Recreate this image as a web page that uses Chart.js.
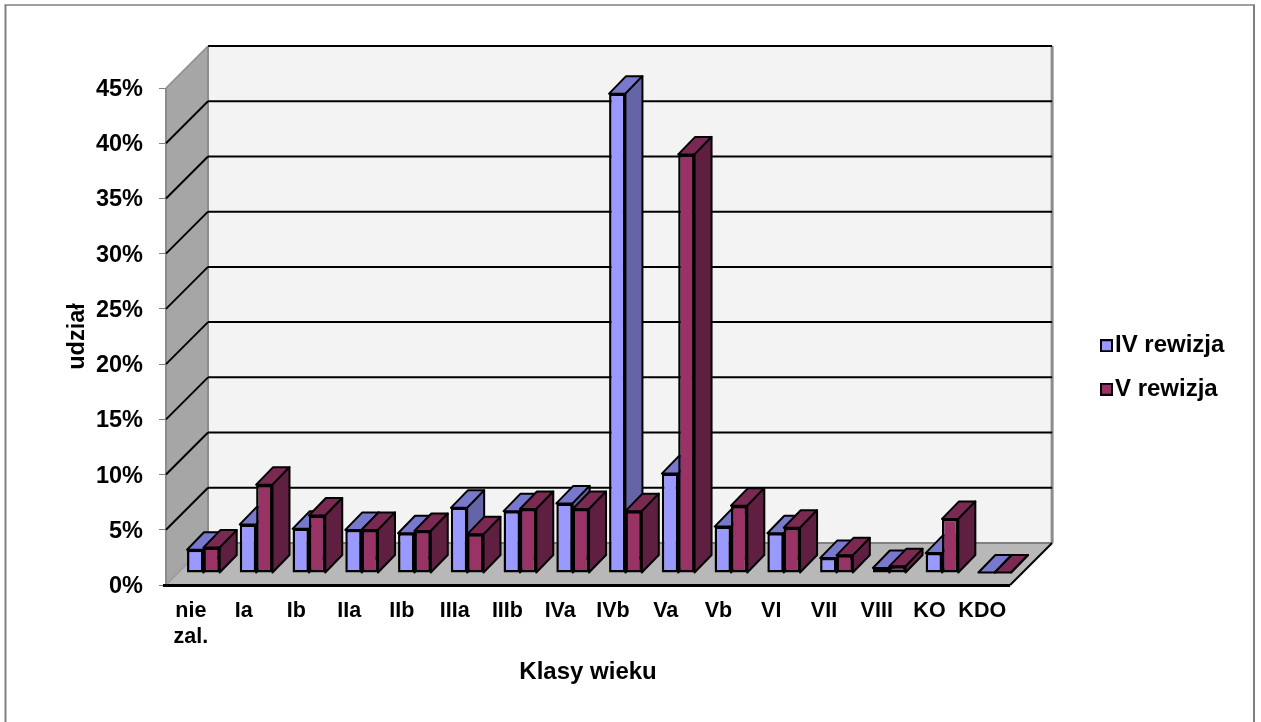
<!DOCTYPE html>
<html>
<head>
<meta charset="utf-8">
<title>Klasy wieku</title>
<script src="https://cdn.jsdelivr.net/npm/chart.js@4"></script>
<style>
  html, body { margin: 0; padding: 0; background: #fff; }
  canvas { display: block; }
</style>
</head>
<body>
<canvas id="wiekChart" width="1261" height="722"></canvas>
<script>
// klasy wieku
const categories = [['nie', 'zal.'], 'Ia', 'Ib', 'IIa', 'IIb', 'IIIa', 'IIIb', 'IVa', 'IVb', 'Va', 'Vb', 'VI', 'VII', 'VIII', 'KO', 'KDO'];
// udzial w %
const rewizja4 = [2.1, 4.4, 4.0, 3.9, 3.6, 5.9, 5.6, 6.3, 43.4, 9.0, 4.2, 3.6, 1.35, 0.45, 1.8, 0.05];
const rewizja5 = [2.3, 8.0, 5.2, 3.9, 3.8, 3.5, 5.8, 5.8, 5.6, 37.9, 6.1, 4.1, 1.6, 0.6, 4.9, 0.05];

// przesuniecia glebi 3D, liczone od przedniej krawedzi podlogi
const WALL_DX = 42, WALL_DY = -42;
const BAR_DX = 11, BAR_DY = -12;
const SIDE_DX = 17, SIDE_DY = -17.5;
const FONT = '"Liberation Sans", Arial, sans-serif';

const frontColors = ['#9999FF', '#993366'];
const faceColors = [
  { top: '#7878CC', side: '#6464A6' },
  { top: '#7A2952', side: '#5F1F40' },
];

function poly(ctx, pts, fill, stroke, lw) {
  ctx.beginPath();
  pts.forEach((p, i) => i ? ctx.lineTo(p[0], p[1]) : ctx.moveTo(p[0], p[1]));
  ctx.closePath();
  if (fill) { ctx.fillStyle = fill; ctx.fill(); }
  if (stroke) { ctx.strokeStyle = stroke; ctx.lineWidth = lw; ctx.lineJoin = 'round'; ctx.stroke(); }
}

function line(ctx, x1, y1, x2, y2, color, lw) {
  ctx.beginPath();
  ctx.moveTo(x1, y1);
  ctx.lineTo(x2, y2);
  ctx.strokeStyle = color;
  ctx.lineWidth = lw;
  ctx.stroke();
}

// kwadracik legendy; odstep tekstu w legendzie zalezy od fontu, wiec rysowany na szerszym canvasie
function swatch(color) {
  const c = document.createElement('canvas');
  c.width = 21;
  c.height = 13;
  const g = c.getContext('2d');
  g.fillStyle = '#000';
  g.fillRect(8, 0, 13, 13);
  g.fillStyle = color;
  g.fillRect(10, 2, 9, 9);
  return c;
}

const frame3d = {
  id: 'frame3d',
  afterLayout(chart) {
    // legenda stoi wyzej i dalej w prawo niz domyslnie
    const l = chart.legend;
    const w = l.right - l.left;
    l.left = 1082.5;
    l.right = 1082.5 + w;
    l.top -= 20;
    l.bottom -= 20;
  },
  beforeDraw(chart) {
    const ctx = chart.ctx;
    ctx.save();
    // ramka wykresu, dolnej krawedzi nie widac
    line(ctx, 5.5, 722, 5.5, 5, '#808080', 2);
    line(ctx, 4.5, 5, 1255, 5, '#808080', 1.5);
    line(ctx, 1254, 5, 1254, 722, '#808080', 2);
    ctx.restore();
  },
  beforeDatasetsDraw(chart) {
    const ctx = chart.ctx;
    const { left, right } = chart.chartArea;
    const y = chart.scales.y;
    const y0 = y.getPixelForValue(0), yTop = y.getPixelForValue(45);
    ctx.save();

    // sciana tylna, boczna i podloga
    poly(ctx, [[left + WALL_DX, yTop + WALL_DY], [right + WALL_DX, yTop + WALL_DY], [right + WALL_DX, y0 + WALL_DY], [left + WALL_DX, y0 + WALL_DY]], '#F3F3F3');
    poly(ctx, [[left, yTop], [left + WALL_DX, yTop + WALL_DY], [left + WALL_DX, y0 + WALL_DY], [left, y0]], '#A6A6A6');
    poly(ctx, [[left, y0], [left + WALL_DX, y0 + WALL_DY], [right + WALL_DX, y0 + WALL_DY], [right, y0]], '#B8B8B8');

    line(ctx, left + WALL_DX, yTop + WALL_DY, left + WALL_DX, y0 + WALL_DY, '#8C8C8C', 2);
    line(ctx, left, yTop, left, y0, '#8C8C8C', 2);
    line(ctx, right + WALL_DX, yTop + WALL_DY, right + WALL_DX, y0 + WALL_DY, '#8C8C8C', 3);
    line(ctx, left, yTop, left + WALL_DX, yTop + WALL_DY, '#8C8C8C', 1.5);
    line(ctx, left, y0, left + WALL_DX, y0 + WALL_DY, '#9A9A9A', 1.5);
    line(ctx, left + WALL_DX, y0 + WALL_DY, right + WALL_DX, y0 + WALL_DY, '#808080', 2);
    line(ctx, right + WALL_DX, y0 + WALL_DY, right, y0, '#000', 2);
    line(ctx, left - 3, y0 + 0.5, right, y0 + 0.5, '#000', 3);

    // linie siatki
    y.ticks.forEach(t => {
      const py = y.getPixelForValue(t.value);
      if (t.value > 0) {
        line(ctx, left + WALL_DX, py + WALL_DY, right + WALL_DX, py + WALL_DY, '#000', 2);
        if (t.value < 45) line(ctx, left, py, left + WALL_DX, py + WALL_DY, '#000', 2);
      }
    });

    // przesuniecie slupkow w glab, sciany boczne i gorne
    ctx.translate(BAR_DX, BAR_DY);
    chart.data.datasets.forEach((ds, di) => {
      chart.getDatasetMeta(di).data.forEach(bar => {
        const x1 = bar.x - bar.width / 2, x2 = bar.x + bar.width / 2;
        poly(ctx, [[x1, bar.y], [x1 + SIDE_DX, bar.y + SIDE_DY], [x2 + SIDE_DX, bar.y + SIDE_DY], [x2, bar.y]], faceColors[di].top, '#000', 2);
        poly(ctx, [[x2, bar.y], [x2 + SIDE_DX, bar.y + SIDE_DY], [x2 + SIDE_DX, bar.base + SIDE_DY], [x2, bar.base]], faceColors[di].side, '#000', 2);
      });
    });
    // translate zostaje do afterDatasetsDraw, zeby przody slupkow tez sie przesunely
  },
  afterDatasetsDraw(chart) {
    chart.ctx.restore();
  },
};

new Chart(document.getElementById('wiekChart'), {
  type: 'bar',
  data: {
    labels: categories,
    datasets: [
      { label: 'IV rewizja', data: rewizja4, backgroundColor: frontColors[0], borderColor: '#000', borderWidth: 2.5, borderSkipped: false, clip: false },
      { label: 'V rewizja', data: rewizja5, backgroundColor: frontColors[1], borderColor: '#000', borderWidth: 2.5, borderSkipped: false, clip: false },
    ],
  },
  plugins: [frame3d],
  options: {
    responsive: false,
    animation: false,
    layout: { padding: { left: 63, right: 99, top: 88, bottom: 35 } },
    datasets: { bar: { categoryPercentage: 0.62, barPercentage: 1 } },
    plugins: {
      tooltip: { enabled: false },
      legend: {
        position: 'right',
        labels: {
          color: '#000',
          boxWidth: 1,
          boxHeight: 1,
          usePointStyle: true,
          pointStyleWidth: 1,
          padding: 19.5,
          font: { family: FONT, size: 24, weight: 'bold' },
          generateLabels(chart) {
            return Chart.defaults.plugins.legend.labels.generateLabels(chart)
              .map((item, i) => ({ ...item, pointStyle: swatch(frontColors[i]) }));
          },
        },
      },
    },
    scales: {
      x: {
        afterFit(s) { s.height = 102; },
        grid: { display: false },
        border: { display: false },
        ticks: { color: '#000', padding: 5, labelOffset: -1.5, maxRotation: 0, autoSkip: false, font: { family: FONT, size: 21.5, weight: 'bold' } },
        title: { display: true, text: 'Klasy wieku', color: '#000', padding: { top: 8, bottom: 0 }, font: { family: FONT, size: 24, weight: 'bold' } },
      },
      y: {
        min: 0,
        max: 45,
        afterFit(s) { s.width = 103; },
        grid: { drawOnChartArea: false, color: '#808080', tickLength: 7 },
        border: { display: false },
        ticks: { stepSize: 5, color: '#000', padding: 16, labelOffset: 1.5, callback: v => v + '%', font: { family: FONT, size: 23.5, weight: 'bold' } },
        title: { display: true, text: 'udział', color: '#000', padding: 0, font: { family: FONT, size: 23.5, weight: 'bold' } },
      },
    },
  },
});
</script>
</body>
</html>
